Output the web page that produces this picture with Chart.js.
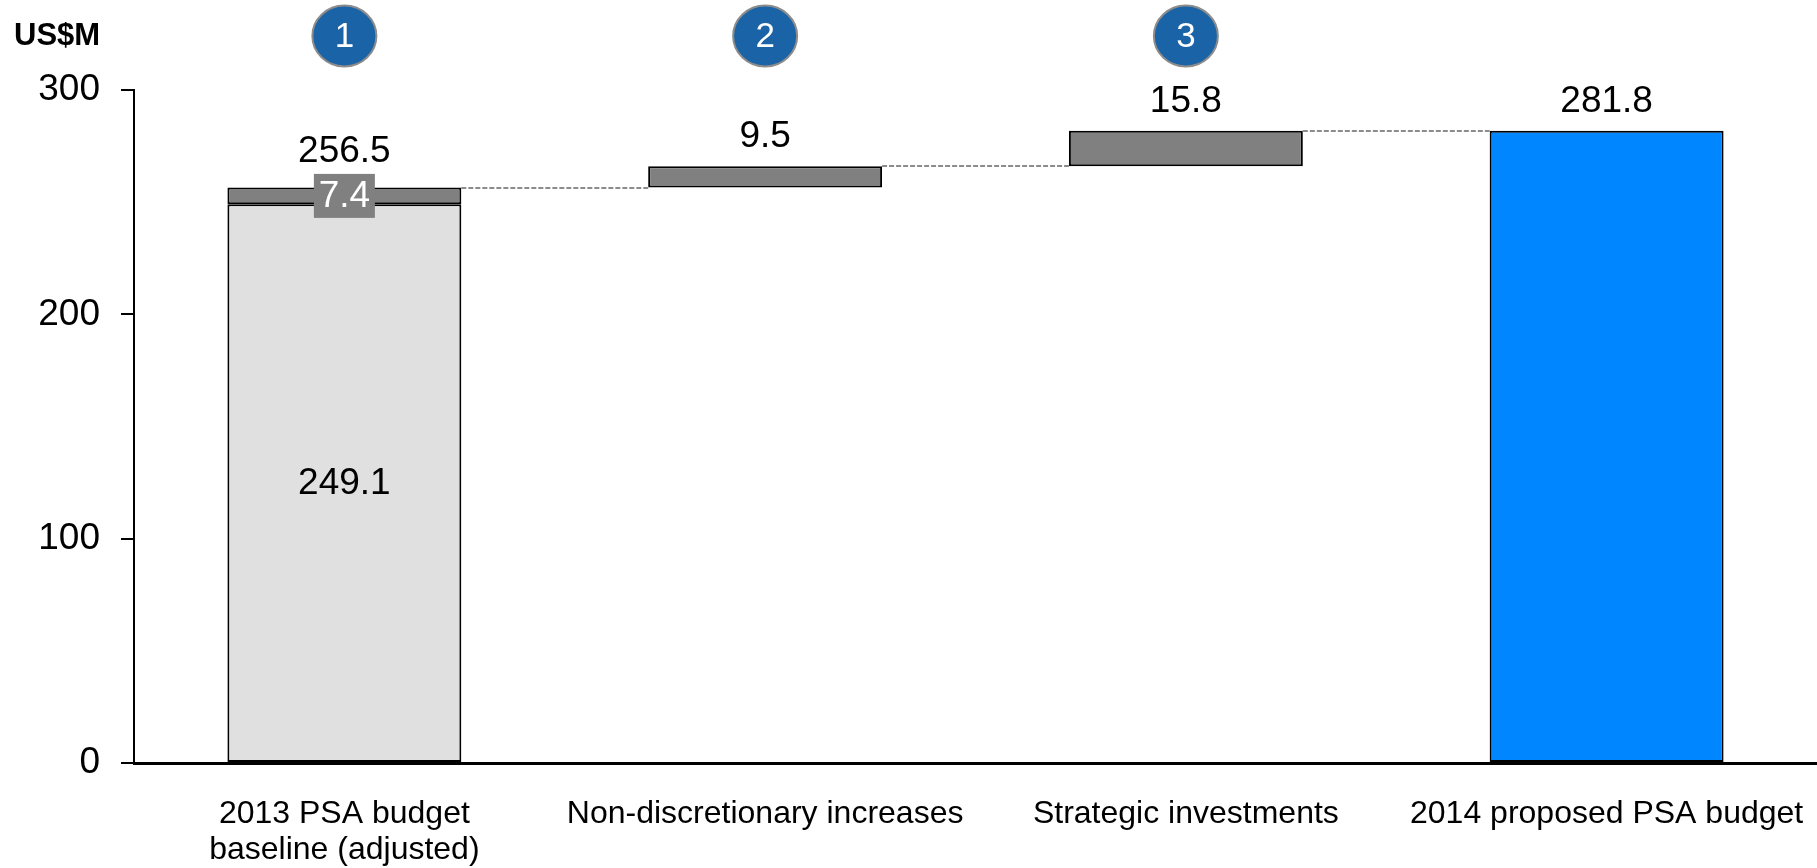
<!DOCTYPE html>
<html>
<head>
<meta charset="utf-8">
<script src="https://cdn.jsdelivr.net/npm/chart.js@4"></script>
<style>
  html, body { margin: 0; padding: 0; background: #fff; }
  #wrap { position: relative; width: 1817px; height: 868px; }
</style>
</head>
<body>
<div id="wrap"><canvas id="c" width="1817" height="868"></canvas></div>
<script>
// ---- data ----
const categories = [["2013 PSA budget", "baseline (adjusted)"], "Non-discretionary increases", "Strategic investments", "2014 proposed PSA budget"];
const baseValues = [249.1, null, null, 281.8];       // bars that start at 0
const stepFrom   = [249.1, 256.5, 266.0, null];      // floating step bars (start)
const stepTo     = [256.5, 266.0, 281.8, null];      // floating step bars (end)
const topLabels  = ["256.5", "9.5", "15.8", "281.8"];
const innerLabels = ["249.1", null, null, null];
const boxLabels  = ["7.4", null, null, null];
const badgeNumbers = ["1", "2", "3"];
const yTickValues = [0, 100, 200, 300];
const unitLabel = "US$M";

const FONT = "'Liberation Sans', Arial, Helvetica, sans-serif";
const baseColors = ["#E0E0E0", null, null, "#0087FF"];
const stepColor = "#808080";

const waterfallPlugin = {
  id: 'waterfall',
  afterDatasetsDraw(chart) {
    const ctx = chart.ctx;
    const y = chart.scales.y;
    const x = chart.scales.x;
    const metaBase = chart.getDatasetMeta(0);
    const metaStep = chart.getDatasetMeta(1);
    const barAt = (i) => metaStep.data[i] && stepTo[i] != null ? metaStep.data[i] : metaBase.data[i];

    // connectors
    ctx.save();
    ctx.strokeStyle = '#8c8c8c';
    ctx.lineWidth = 2;
    ctx.setLineDash([5, 2]);
    for (let i = 0; i < categories.length - 1; i++) {
      const a = barAt(i), b = barAt(i + 1);
      const level = stepTo[i];
      const yy = Math.round(y.getPixelForValue(level));
      ctx.beginPath();
      ctx.moveTo(a.x + a.width / 2, yy);
      ctx.lineTo(b.x - b.width / 2, yy);
      ctx.stroke();
    }
    ctx.restore();

    ctx.save();
    ctx.textAlign = 'center';
    ctx.textBaseline = 'middle';
    ctx.font = '37px ' + FONT;
    // top labels
    for (let i = 0; i < categories.length; i++) {
      const topVal = stepTo[i] != null ? stepTo[i] : baseValues[i];
      const py = y.getPixelForValue(topVal);
      const cx = x.getPixelForValue(i);
      const off = boxLabels[i] ? 36 : 29;
      ctx.fillStyle = '#000';
      ctx.fillText(topLabels[i], cx, py - off);
      if (innerLabels[i]) {
        ctx.fillText(innerLabels[i], cx, (y.getPixelForValue(0) + y.getPixelForValue(baseValues[i])) / 2);
      }
      if (boxLabels[i]) {
        const my = (y.getPixelForValue(stepFrom[i]) + y.getPixelForValue(stepTo[i])) / 2;
        ctx.fillStyle = stepColor;
        ctx.fillRect(cx - 30.5, my - 22, 61, 44);
        ctx.fillStyle = '#fff';
        ctx.fillText(boxLabels[i], cx, my + 1);
      }
    }
    // badges
    for (let i = 0; i < badgeNumbers.length; i++) {
      const cx = x.getPixelForValue(i);
      const cy = 36;
      ctx.beginPath();
      ctx.ellipse(cx, cy, 32, 30.5, 0, 0, Math.PI * 2);
      ctx.fillStyle = '#1A63A6';
      ctx.fill();
      ctx.lineWidth = 2;
      ctx.strokeStyle = '#8c8c8c';
      ctx.setLineDash([]);
      ctx.stroke();
      ctx.fillStyle = '#fff';
      ctx.font = '35px ' + FONT;
      ctx.fillText(badgeNumbers[i], cx, cy + 1);
    }
    // unit label
    ctx.textAlign = 'left';
    ctx.fillStyle = '#000';
    ctx.font = 'bold 31px ' + FONT;
    ctx.fillText(unitLabel, 14, 36);
    ctx.restore();
  }
};

new Chart(document.getElementById('c'), {
  type: 'bar',
  data: {
    labels: categories,
    datasets: [
      {
        label: 'base',
        data: baseValues.map(v => v == null ? null : [0, v]),
        backgroundColor: baseColors,
        borderColor: '#000',
        borderWidth: 2,
        borderSkipped: false,
        barPercentage: 0.556,
        categoryPercentage: 1.0
      },
      {
        label: 'step',
        data: stepFrom.map((v, i) => v == null ? null : [v, stepTo[i]]),
        backgroundColor: stepColor,
        borderColor: '#000',
        borderWidth: 2,
        borderSkipped: false,
        barPercentage: 0.556,
        categoryPercentage: 1.0
      }
    ]
  },
  options: {
    responsive: false,
    animation: false,
    events: [],
    layout: { padding: { top: 90, left: 0, right: 0, bottom: 0 } },
    plugins: { legend: { display: false }, tooltip: { enabled: false } },
    scales: {
      x: {
        stacked: true,
        offset: true,
        grid: { display: false, drawTicks: false },
        border: { display: true, color: '#000', width: 3 },
        ticks: {
          color: '#000',
          font: { family: FONT, size: 32, lineHeight: 1.1 },
          padding: 34,
          maxRotation: 0,
          autoSkip: false
        },
        afterFit(scale) { scale.height = 105; scale.paddingLeft = 0; scale.paddingRight = 0; }
      },
      y: {
        stacked: false,
        min: 0,
        max: 300,
        afterBuildTicks(scale) { scale.ticks = yTickValues.map(v => ({ value: v })); },
        grid: { drawOnChartArea: false, drawTicks: true, tickLength: 13, color: '#000', lineWidth: 2 },
        border: { display: true, color: '#000', width: 2 },
        ticks: {
          color: '#000',
          font: { family: FONT, size: 37 },
          padding: 21
        },
        afterFit(scale) { scale.width = 134; }
      }
    }
  },
  plugins: [waterfallPlugin]
});
</script>
</body>
</html>
